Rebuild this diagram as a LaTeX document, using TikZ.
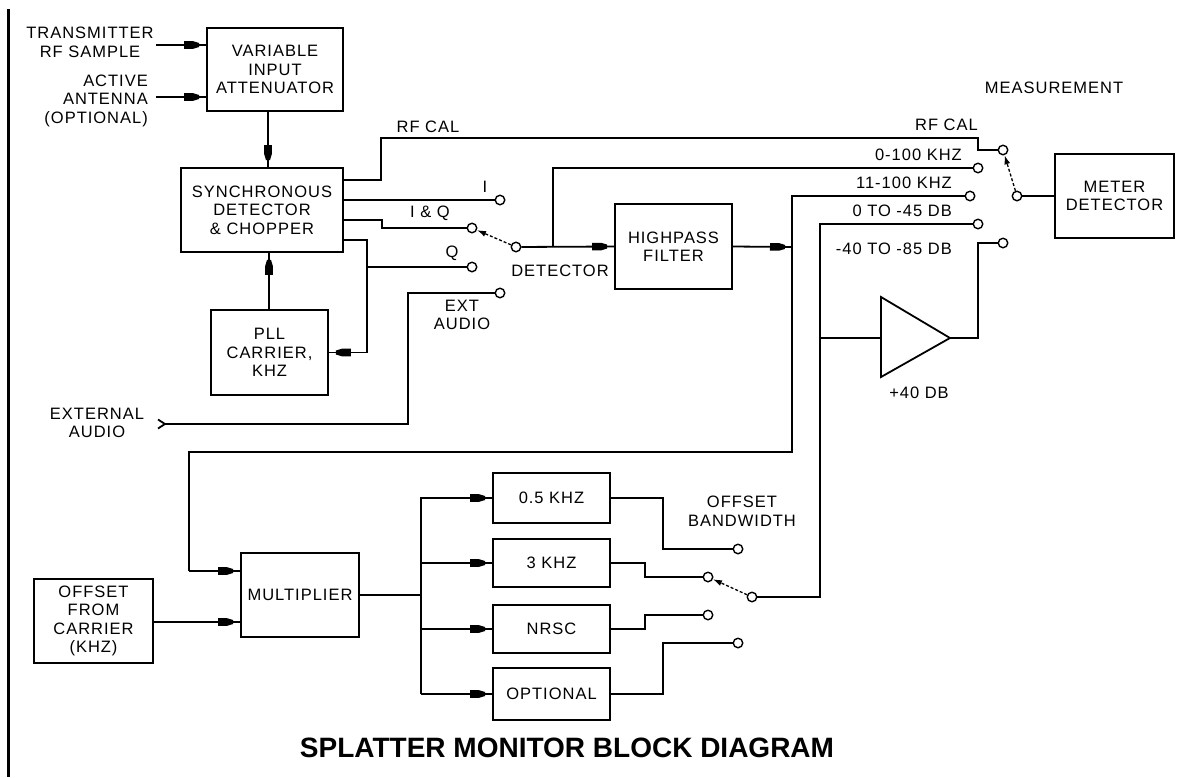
\documentclass[tikz,border=0pt]{standalone}
\usepackage{fontspec}
\setmainfont{Liberation Sans}[LetterSpace=6]
\newfontfamily\titlefont{Liberation Sans}
\usetikzlibrary{arrows.meta,decorations.markings,calc}
\begin{document}
\begin{tikzpicture}[x=1pt,y=-1pt,
  every node/.style={font=\fontsize{16.5}{18.5}\selectfont, inner sep=0pt},
  line/.style={line width=1.8pt},
  box/.style={draw, line width=1.8pt, align=center, inner sep=0pt},
  lbl/.style={align=center},
  contact/.style={draw, circle, fill=white, line width=1.4pt, minimum size=9.5pt, inner sep=0pt},
  arr/.style={postaction={decorate}, decoration={markings, mark=at position 1 with {\fill (-22pt,-3.8pt) -- (-13pt,-3.8pt) -- (-7pt,-2pt) -- (-7pt,2pt) -- (-13pt,3.8pt) -- (-22pt,3.8pt) -- cycle;}}},
  swarm/.style={line width=1.3pt, dash pattern=on 3pt off 2pt, -{Latex[length=9pt,width=6pt]}},
]
\fill[white] (0,0) rectangle (1185,777);
\useasboundingbox (0,0) rectangle (1185,777);
% left border
\draw[line width=3pt] (8.5,9) -- (8.5,777);

% boxes
\node[box, minimum width=136pt, minimum height=83pt] (att) at (275,69.5) {VARIABLE\\INPUT\\ATTENUATOR};
\node[box, minimum width=162pt, minimum height=84pt] (sync) at (262,210) {SYNCHRONOUS\\DETECTOR\\\& CHOPPER};
\node[box, minimum width=117pt, minimum height=85pt] (pll) at (269.5,352.5) {PLL\\CARRIER,\\KHZ};
\node[box, minimum width=117pt, minimum height=85pt] (hpf) at (673.5,246.5) {HIGHPASS\\FILTER};
\node[box, minimum width=119pt, minimum height=84pt] (meter) at (1114.5,196) {METER\\DETECTOR};
\node[box, minimum width=118pt, minimum height=84pt] (mult) at (300,595) {MULTIPLIER};
\node[box, minimum width=119pt, minimum height=84pt] (offset) at (93.5,621) {OFFSET\\FROM\\CARRIER\\(KHZ)};
\node[box, minimum width=117pt, minimum height=50pt] (f05) at (551.5,498) {0.5 KHZ};
\node[box, minimum width=117pt, minimum height=48pt] (f3) at (551.5,563) {3 KHZ};
\node[box, minimum width=117pt, minimum height=48pt] (fnrsc) at (551.5,629) {NRSC};
\node[box, minimum width=117pt, minimum height=52pt] (fopt) at (551.5,694) {OPTIONAL};

% amplifier
\coordinate (ampin) at (881,338);
\coordinate (ampout) at (950,338);
\draw[line] (881,297) -- (ampout) -- (881,377) -- cycle;

% contacts
\node[contact] (cI) at (500,200) {};
\node[contact] (cIQ) at (472,228) {};
\node[contact] (cQ) at (472,267) {};
\node[contact] (cExt) at (500,293) {};
\node[contact] (cDet) at (516,247) {};
\node[contact] (mRF) at (1003,150) {};
\node[contact] (m0100) at (978,168) {};
\node[contact] (m11) at (970,196) {};
\node[contact] (m045) at (978,224) {};
\node[contact] (m4085) at (1003,243) {};
\node[contact] (mCom) at (1017,196) {};
\node[contact] (o05) at (738,549) {};
\node[contact] (o3) at (708,577) {};
\node[contact] (oNRSC) at (708,615) {};
\node[contact] (oOpt) at (738,643) {};
\node[contact] (oCom) at (752,597) {};

% inputs
\coordinate (txin) at (156,45);
\coordinate (antin) at (156,97);
\draw[line,arr] (txin) -- (txin -| att.west);
\draw[line,arr] (antin) -- (antin -| att.west);
\coordinate (attout) at (268,111);
\draw[line,arr] (attout) -- (attout |- sync.north);
\coordinate (pllout) at (269,310);
\draw[line,arr] (pllout) -- (pllout |- sync.south);

% sync outputs
\draw[line] (sync.east |- 0,180) -- (381,180) -- (381,138) -- (978,138) -- (978,150) -- (mRF);
\draw[line] (sync.east |- 0,200) -- (cI);
\draw[line] (sync.east |- 0,220) -- (382,220) -- (382,228) -- (cIQ);
\draw[line,arr] (sync.east |- 0,240) -- (367,240) |- (pll.east);
\draw[line] (367,267) -- (cQ);

% external audio
\coordinate (extin) at (165,424);
\draw[line] (extin) ++(-7,-4.5) -- (extin) -- ++(-7,4.5);
\draw[line] (cExt) -- (408,293) -- (408,424) -- (extin);

% detector out
\draw[line,arr] (cDet) -- (hpf.west);
\draw[line] (553,247) -- (553,168) -- (m0100);
\coordinate (hpfj) at (792,247);
\draw[line,arr] (hpf.east) -- (hpfj);
\draw[line] (m11) -- (792,196) -- (792,452) -- (189,452) -- (189,571);
\draw[line,arr] (189,571) -- (mult.west |- 0,571);
\draw[line,arr] (offset.east |- 0,622) -- (mult.west |- 0,622);

% amplifier / attenuator paths
\draw[line] (m045) -- (820,224) -- (820,597) -- (oCom);
\draw[line] (820,338) -- (ampin);
\draw[line] (ampout) -- (978,338) -- (978,243) -- (m4085);
\draw[line] (mCom) -- (meter.west);

% multiplier out to filters
\draw[line] (mult.east) -- (421,595);
\draw[line] (421,497) -- (421,694);
\draw[line,arr] (421,498) -- (f05.west);
\draw[line,arr] (421,563) -- (f3.west);
\draw[line,arr] (421,629) -- (fnrsc.west);
\draw[line,arr] (421,694) -- (fopt.west);

% filter outputs
\draw[line] (f05.east) -- (663,498) -- (663,549) -- (o05);
\draw[line] (f3.east) -- (645,563) -- (645,577) -- (o3);
\draw[line] (fnrsc.east) -- (645,629) -- (645,615) -- (oNRSC);
\draw[line] (fopt.east) -- (663,694) -- (663,643) -- (oOpt);

% switch arms
\draw[swarm] (cDet) -- (cIQ);
\draw[swarm] (mCom) -- (mRF);
\draw[swarm] (oCom) -- (o3);

% labels
\node[lbl] (ltx) at (90,42.5) {TRANSMITTER\\RF SAMPLE};
\node[lbl, align=right, anchor=east] (lant) at (148,100.5) {ACTIVE\\ANTENNA\\(OPTIONAL)};
\node[lbl] (lext) at (97,423) {EXTERNAL\\AUDIO};
\node[lbl] (lrfcal) at (428,127) {RF CAL};
\node[lbl] (lI) at (485,187) {I};
\node[lbl] (lIQ) at (430,213) {I \& Q};
\node[lbl] (lQ) at (452,253) {Q};
\node[lbl] (lextaud) at (462,315) {EXT\\AUDIO};
\node[lbl] (ldet) at (560,271) {DETECTOR};
\node[lbl] (lmeas) at (1054,88) {MEASUREMENT};
\node[lbl, anchor=east] (lrfcal2) at (978,125) {RF CAL};
\node[lbl, anchor=east] (l0100) at (962,155) {0-100 KHZ};
\node[lbl, anchor=east] (l11) at (952,183) {11-100 KHZ};
\node[lbl, anchor=east] (l045) at (952,211) {0 TO -45 DB};
\node[lbl, anchor=east] (l4085) at (952,249) {-40 TO -85 DB};
\node[lbl] (lgain) at (919,393) {+40 DB};
\node[lbl] (loffbw) at (742,511) {OFFSET\\BANDWIDTH};
\node[font=\titlefont\fontsize{28}{30}\selectfont\bfseries] (title) at (567,748) {SPLATTER MONITOR BLOCK DIAGRAM};
\end{tikzpicture}
\end{document}
